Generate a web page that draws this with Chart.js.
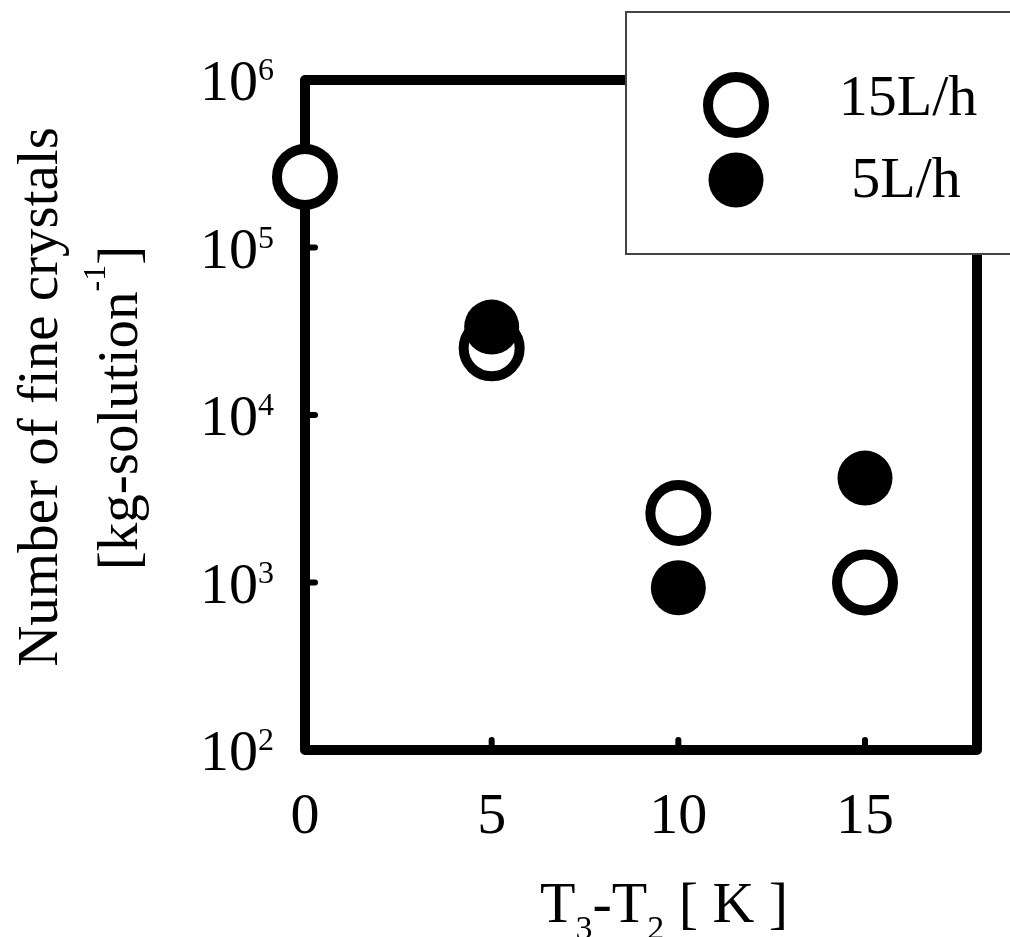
<!DOCTYPE html>
<html>
<head>
<meta charset="utf-8">
<script src="https://cdn.jsdelivr.net/npm/chart.js@4/dist/chart.umd.min.js"></script>
<style>
  html, body { margin: 0; padding: 0; background: #fff; }
  #wrap { width: 1010px; height: 937px; position: relative; }
</style>
</head>
<body>
<div id="wrap"><canvas id="c" width="1010" height="937"></canvas></div>
<script>
// ---- data ----
const xOpen = [0, 5, 10, 15];
const yOpen = [2.64e5, 2.5e4, 2.6e3, 1.0e3];      // 15L/h
const xFilled = [5, 10, 15];
const yFilled = [3.35e4, 9.3e2, 4.2e3];           // 5L/h
const xTicks = [0, 5, 10, 15];
const yTickValues = [1e2, 1e3, 1e4, 1e5, 1e6];
const yTickExps = ['2', '3', '4', '5', '6'];
const innerYTicks = [1e3, 1e4, 1e5];
const innerXTicks = [5, 10, 15];
const seriesNames = ['15L/h', '5L/h'];

const FONT = '"Liberation Serif", "Times New Roman", serif';

const decor = {
  id: 'decor',
  beforeDatasetsDraw(chart) {
    const ctx = chart.ctx;
    const xs = chart.scales.x, ys = chart.scales.y;
    const a = chart.chartArea;
    ctx.save();
    // frame
    ctx.strokeStyle = '#000';
    ctx.lineWidth = 10;
    ctx.lineJoin = 'round';
    ctx.strokeRect(a.left, a.top, a.right - a.left, a.bottom - a.top);
    // inner ticks
    ctx.lineWidth = 6;
    ctx.lineCap = 'round';
    innerYTicks.forEach(v => {
      const y = ys.getPixelForValue(v);
      ctx.beginPath(); ctx.moveTo(a.left, y); ctx.lineTo(a.left + 10, y); ctx.stroke();
    });
    innerXTicks.forEach(v => {
      const x = xs.getPixelForValue(v);
      ctx.beginPath(); ctx.moveTo(x, a.bottom); ctx.lineTo(x, a.bottom - 10); ctx.stroke();
    });
    // y tick labels
    ctx.fillStyle = '#000';
    ctx.textBaseline = 'alphabetic';
    yTickValues.forEach((v, i) => {
      const y = ys.getPixelForValue(v);
      ctx.font = '32px ' + FONT;
      const ew = ctx.measureText(yTickExps[i]).width;
      ctx.textAlign = 'right';
      const right = 274;
      ctx.fillText(yTickExps[i], right, y - 0);
      ctx.font = '58px ' + FONT;
      ctx.fillText('10', right - ew, y + 20);
    });
    // x tick labels
    ctx.font = '58px ' + FONT;
    ctx.textAlign = 'center';
    xTicks.forEach(v => {
      ctx.fillText(String(v), xs.getPixelForValue(v), 833);
    });
    // x title: T3-T2 [ K ]
    let x = 540;
    const base = 922;
    const parts = [['T', 58, 0], ['3', 34, 17], ['-T', 58, 0], ['2', 34, 17], [' [ K ]', 58, 0]];
    ctx.textAlign = 'left';
    parts.forEach(p => {
      ctx.font = p[1] + 'px ' + FONT;
      ctx.fillText(p[0], x, base + p[2]);
      x += ctx.measureText(p[0]).width;
    });
    // y title
    ctx.save();
    ctx.translate(57, 397);
    ctx.rotate(-Math.PI / 2);
    ctx.font = '57px ' + FONT;
    ctx.textAlign = 'center';
    ctx.fillText('Number of fine crystals', 0, 0);
    ctx.restore();
    ctx.save();
    ctx.translate(137, 408);
    ctx.rotate(-Math.PI / 2);
    const l2 = [['[kg-solution', 57, 0], ['-1', 32, -32], [']', 57, 0]];
    let tw = 0;
    l2.forEach(p => { ctx.font = p[1] + 'px ' + FONT; tw += ctx.measureText(p[0]).width; });
    let lx = -tw / 2;
    ctx.textAlign = 'left';
    l2.forEach(p => {
      ctx.font = p[1] + 'px ' + FONT;
      ctx.fillText(p[0], lx, p[2]);
      lx += ctx.measureText(p[0]).width;
    });
    ctx.restore();
    ctx.restore();
  },
  afterDatasetsDraw(chart) {
    const ctx = chart.ctx;
    ctx.save();
    // legend box
    ctx.fillStyle = '#fff';
    ctx.strokeStyle = '#444';
    ctx.lineWidth = 2;
    ctx.fillRect(626, 12, 400, 242);
    ctx.strokeRect(626, 12, 400, 242);
    // markers
    ctx.strokeStyle = '#000';
    ctx.lineWidth = 10;
    ctx.beginPath(); ctx.arc(736, 105, 28, 0, Math.PI * 2); ctx.stroke();
    ctx.fillStyle = '#000';
    ctx.beginPath(); ctx.arc(736, 180, 27.5, 0, Math.PI * 2); ctx.fill();
    ctx.font = '58px ' + FONT;
    ctx.textAlign = 'center';
    ctx.textBaseline = 'alphabetic';
    ctx.fillText(seriesNames[0], 908, 115);
    ctx.fillText(seriesNames[1], 906, 197);
    ctx.restore();
  }
};

new Chart(document.getElementById('c'), {
  type: 'scatter',
  data: {
    datasets: [
      {
        label: seriesNames[0],
        data: xOpen.map((x, i) => ({ x: x, y: yOpen[i] })),
        pointRadius: 28, pointHoverRadius: 28,
        pointBackgroundColor: '#fff', pointBorderColor: '#000', pointBorderWidth: 10,
        clip: false, order: 2
      },
      {
        label: seriesNames[1],
        data: xFilled.map((x, i) => ({ x: x, y: yFilled[i] })),
        pointRadius: 27.5, pointHoverRadius: 27.5,
        pointBackgroundColor: '#000', pointBorderColor: '#000', pointBorderWidth: 0,
        clip: false, order: 1
      }
    ]
  },
  options: {
    responsive: false,
    animation: false,
    events: [],
    layout: { autoPadding: false, padding: { left: 305, right: 33, top: 80, bottom: 187 } },
    plugins: { legend: { display: false }, tooltip: { enabled: false } },
    scales: {
      x: { type: 'linear', min: 0, max: 18, display: false },
      y: { type: 'logarithmic', min: 100, max: 1e6, display: false }
    }
  },
  plugins: [decor]
});
</script>
</body>
</html>
